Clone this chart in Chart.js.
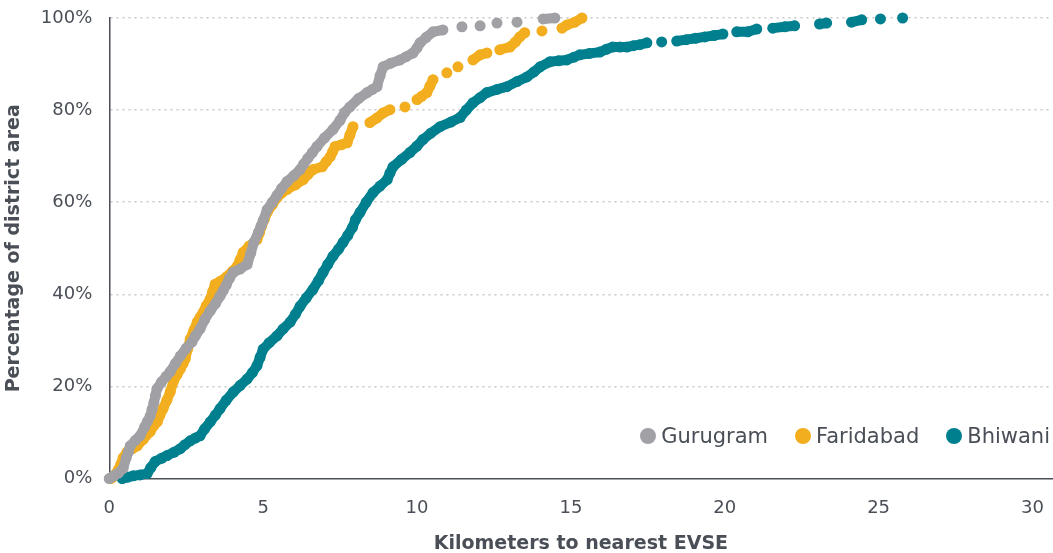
<!DOCTYPE html>
<html>
<head>
<meta charset="utf-8">
<script src="https://cdn.jsdelivr.net/npm/chart.js@4.4.1/dist/chart.umd.min.js"></script>
<style>
  body { margin: 0; background: #fff; }
  #wrap { position: relative; width: 1053px; height: 553px; overflow: hidden; }
  #legend { position: absolute; top: 423px; right: 3px; display: flex; font-family: "DejaVu Sans", sans-serif; font-size: 21px; line-height: 26px; color: #4a4f57; }
  #legend span.item { display: flex; align-items: center; margin-right: 27px; }
  #legend span.item:last-child { margin-right: 0; }
  #legend span.dot { width: 16px; height: 16px; border-radius: 50%; margin-right: 5px; display: inline-block; }
</style>
</head>
<body>
<div id="wrap">
  <canvas id="myChart" width="1058" height="553"></canvas>
  <div id="legend"></div>
</div>
<script>
// Series names and colours
const seriesNames = ['Gurugram', 'Faridabad', 'Bhiwani'];
const seriesColors = ['#a0a0a5', '#f2ae1e', '#00808f'];

// Kilometers to nearest EVSE (x) and cumulative % of district area (y)
const gurugramKm = [0.0, 0.15, 0.3, 0.45, 0.55, 0.62, 0.68, 0.85, 1.0, 1.15, 1.24, 1.33, 1.39, 1.45, 1.5, 1.55, 1.7, 1.85, 1.98, 2.15,
  2.31, 2.5, 2.69, 2.8, 2.95, 3.1, 3.28, 3.45, 3.6, 3.7, 3.8, 3.9, 4.03, 4.25, 4.48, 4.6, 4.7, 4.85, 4.93, 5.0,
  5.13, 5.3, 5.45, 5.6, 5.78, 6.0, 6.2, 6.32, 6.45, 6.6, 6.75, 7.0, 7.27, 7.5, 7.65, 7.82, 8.1, 8.38, 8.55, 8.7,
  8.8, 8.9, 9.15, 9.45, 9.65, 9.87, 10.0, 10.1, 10.3, 10.52, 10.84, 11.46, 12.05, 12.6, 13.25, 14.1, 14.48];
const gurugramPct = [0, 0.6, 1.2, 2.2, 4.5, 5.8, 7.1, 8.3, 9.3, 11.2, 12.4, 13.6, 15, 16.5, 18, 19.5, 21, 22.2, 23.2, 25,
  26.6, 28.3, 29.7, 31, 32.5, 34.5, 36.4, 38, 39.6, 40.8, 42, 43.4, 44.8, 45.5, 46.5, 49, 51.3, 53.5, 54.8, 56,
  58.4, 60, 61.5, 63, 64.5, 65.8, 67.1, 68.3, 69.5, 70.8, 72.1, 74, 75.8, 77.8, 79.5, 80.7, 82.5, 83.8, 84.5, 85.1,
  87.5, 89.4, 90.2, 90.9, 91.6, 92.4, 93.5, 94.6, 95.8, 97.0, 97.4, 98.1, 98.3, 98.9, 99.1, 99.8, 100];

const faridabadKm = [0.05, 0.13, 0.3, 0.38, 0.45, 0.58, 0.75, 0.91, 1.1, 1.33, 1.45, 1.56, 1.65, 1.75, 1.87, 1.98, 2.08, 2.2, 2.31, 2.4,
  2.47, 2.55, 2.63, 2.75, 2.86, 2.95, 3.05, 3.15, 3.28, 3.36, 3.44, 3.6, 3.83, 4.0, 4.16, 4.25, 4.35, 4.55, 4.8, 4.88,
  4.95, 5.04, 5.13, 5.3, 5.45, 5.6, 5.78, 6.05, 6.3, 6.45, 6.62, 6.92, 7.05, 7.18, 7.26, 7.34, 7.55, 7.73, 7.82, 7.92,
  8.47, 8.7, 8.9, 9.12, 9.61, 10.0, 10.15, 10.32, 10.42, 10.52, 10.97, 11.33, 11.82, 12.05, 12.27, 12.69, 13.02, 13.2, 13.34, 13.5,
  14.06, 14.71, 14.87, 15.13, 15.36];
const faridabadPct = [0, 0.4, 2, 3.2, 4.5, 5.8, 6.5, 7.1, 8.5, 10.2, 11.5, 12.3, 13.8, 15.2, 17, 18.8, 21.0, 22.5, 23.8, 25,
  26.0, 28.2, 30.3, 32.2, 34.0, 35, 36.1, 37.5, 39.0, 40.6, 42.2, 42.8, 43.9, 45, 46.1, 47.5, 49.1, 50.5, 51.9, 53.3,
  54.8, 56.3, 57.8, 59.5, 61, 62, 62.8, 63.8, 64.9, 66, 67.1, 67.7, 68.8, 69.9, 71, 72.1, 72.5, 72.9, 74.6, 76.4,
  77.3, 78.3, 79.4, 80.1, 80.7, 82.3, 83, 83.8, 85.2, 86.6, 88.1, 89.4, 90.9, 92.0, 92.4, 93.1, 93.7, 94.8, 95.9, 96.8,
  97.2, 97.8, 98.5, 99.1, 100];

const bhiwaniKm = [0.42, 0.6, 0.78, 1.0, 1.23, 1.35, 1.49, 1.7, 1.88, 2.1, 2.31, 2.45, 2.63, 2.8, 2.95, 3.1, 3.28, 3.45, 3.6, 3.8,
  4.03, 4.25, 4.48, 4.65, 4.8, 4.9, 5.0, 5.2, 5.45, 5.65, 5.88, 6.05, 6.2, 6.4, 6.62, 6.8, 6.95, 7.1, 7.27, 7.45,
  7.6, 7.75, 7.9, 8.0, 8.15, 8.35, 8.57, 8.8, 9.03, 9.12, 9.22, 9.5, 9.77, 10.0, 10.19, 10.45, 10.75, 11.1, 11.4, 11.6,
  11.82, 12.05, 12.27, 12.6, 12.92, 13.25, 13.57, 13.8, 14.0, 14.32, 14.6, 14.87, 15.1, 15.29, 15.6, 15.94, 16.15, 16.36, 16.6, 16.82,
  17.03, 17.24, 17.47, 17.95, 18.44, 18.75, 19.05, 19.35, 19.65, 19.94, 20.39, 20.75, 21.04, 21.56, 21.95, 22.27, 23.08, 23.31, 24.12, 24.45,
  25.06, 25.78];
const bhiwaniPct = [0, 0.3, 0.6, 0.8, 1.1, 2.4, 3.7, 4.4, 5.0, 5.7, 6.5, 7.3, 8.2, 8.8, 9.3, 10.8, 12.3, 13.8, 15.2, 17,
  18.8, 20.2, 21.6, 23, 24.5, 26.3, 28.1, 29.5, 31.0, 32.5, 34.0, 35.7, 37.4, 39.2, 41.1, 43, 44.8, 46.5, 48.3, 49.8,
  51.3, 52.8, 54.5, 56.2, 57.8, 60, 62.1, 63.5, 64.9, 66.3, 67.7, 69.3, 70.8, 72.2, 73.6, 75, 76.4, 77.4, 78.4, 80,
  81.6, 82.7, 83.8, 84.5, 85.1, 86.2, 87.2, 88.3, 89.4, 90.5, 90.7, 90.9, 91.5, 92.0, 92.3, 92.6, 93.2, 93.7, 93.7, 93.7,
  94.0, 94.2, 94.6, 94.8, 95.0, 95.3, 95.6, 95.9, 96.2, 96.5, 97.0, 97.0, 97.6, 97.8, 98.1, 98.3, 98.7, 98.9, 99.1, 99.6,
  99.8, 100];

// Axis ticks
const xTicks = [0, 5, 10, 15, 20, 25, 30];
const yTicks = [0, 20, 40, 60, 80, 100];

const textColor = '#4a4f57';
const fontFamily = '"DejaVu Sans", sans-serif';

function toPoints(xs, ys) {
    return xs.map((x, i) => ({ x: x, y: ys[i] }));
}

function makeDataset(i, xs, ys) {
    return {
        label: seriesNames[i],
        data: toPoints(xs, ys),
        showLine: true,
        borderColor: seriesColors[i],
        backgroundColor: seriesColors[i],
        borderWidth: 10,
        borderCapStyle: 'round',
        borderJoinStyle: 'round',
        pointRadius: 5.5,
        pointHoverRadius: 5.5,
        pointBorderWidth: 0,
        clip: false,
        // only join dots that sit close together, real gaps stay as separate dots
        segment: {
            borderColor: ctx => {
                const dx = ctx.p1.x - ctx.p0.x, dy = ctx.p1.y - ctx.p0.y;
                return Math.sqrt(dx * dx + dy * dy) > 12.5 ? 'rgba(0,0,0,0)' : seriesColors[i];
            }
        }
    };
}

const ctx = document.getElementById('myChart').getContext('2d');
const myChart = new Chart(ctx, {
    type: 'scatter',
    data: {
        datasets: [
            makeDataset(0, gurugramKm, gurugramPct),
            makeDataset(1, faridabadKm, faridabadPct),
            makeDataset(2, bhiwaniKm, bhiwaniPct)
        ]
    },
    options: {
        responsive: false,
        animation: false,
        layout: { padding: { top: 18, right: 0, left: 0, bottom: 0 } },
        plugins: {
            legend: { display: false },
            tooltip: { enabled: false }
        },
        scales: {
            x: {
                type: 'linear',
                min: 0,
                max: 30.65,
                afterBuildTicks: scale => { scale.ticks = xTicks.map(v => ({ value: v })); },
                afterFit: scale => { scale.paddingRight = 0; },
                ticks: {
                    color: textColor,
                    font: { family: fontFamily, size: 18 },
                    padding: 19,
                    maxRotation: 0
                },
                grid: { display: false, drawTicks: false },
                border: { display: true, color: '#4a4f57', width: 1.5 },
                title: {
                    display: true,
                    text: 'Kilometers to nearest EVSE',
                    color: textColor,
                    font: { family: fontFamily, size: 19, weight: 'bold' },
                    padding: { top: -6, bottom: -2 }
                }
            },
            y: {
                type: 'linear',
                min: 0,
                max: 100,
                afterBuildTicks: scale => { scale.ticks = yTicks.map(v => ({ value: v })); },
                afterFit: scale => { scale.paddingTop = 0; },
                ticks: {
                    color: textColor,
                    font: { family: fontFamily, size: 18 },
                    padding: 17,
                    callback: v => v + '%'
                },
                grid: {
                    color: ctx => ctx.tick.value === 0 ? 'rgba(0,0,0,0)' : '#c8c8c8',
                    drawTicks: false,
                    lineWidth: 1.5
                },
                border: { display: true, color: '#4a4f57', width: 1.5, dash: [2, 4] },
                title: {
                    display: true,
                    text: 'Percentage of district area',
                    color: textColor,
                    font: { family: fontFamily, size: 19, weight: 'bold' },
                    padding: { top: 3, bottom: -2 }
                }
            }
        }
    }
});

// Legend drawn inside the plot area, bottom right
const legendEl = document.getElementById('legend');
seriesNames.forEach((name, i) => {
    const item = document.createElement('span');
    item.className = 'item';
    item.innerHTML = `<span class="dot" style="background:${seriesColors[i]}"></span>${name}`;
    legendEl.appendChild(item);
});
</script>
</body>
</html>
